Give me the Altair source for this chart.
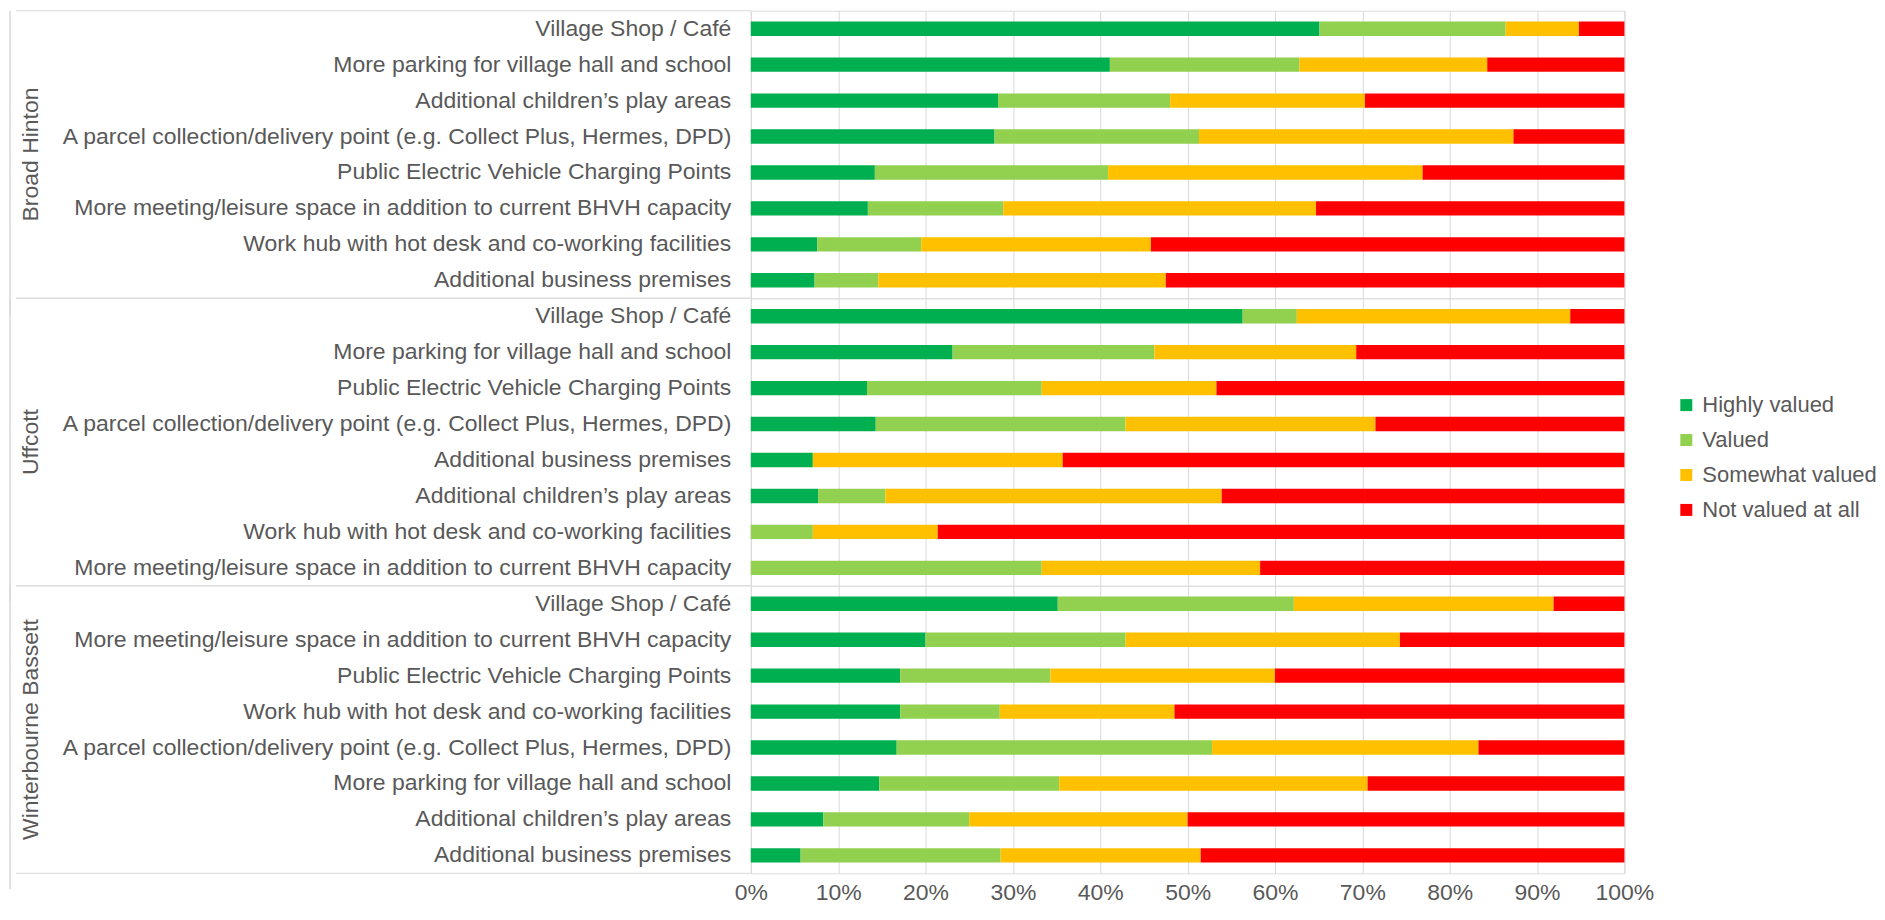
import altair as alt
import pandas as pd

groups = ["Broad Hinton", "Uffcott", "Winterbourne Bassett"]
statuses = ["Highly valued", "Valued", "Somewhat valued", "Not valued at all"]
colors = ["#00B050", "#92D050", "#FFC000", "#FF0000"]
x_ticks = [0, 0.1, 0.2, 0.3, 0.4, 0.5, 0.6, 0.7, 0.8, 0.9, 1.0]

items_bh = [
    "Village Shop / Café",
    "More parking for village hall and school",
    "Additional children’s play areas",
    "A parcel collection/delivery point (e.g. Collect Plus, Hermes, DPD)",
    "Public Electric Vehicle Charging Points",
    "More meeting/leisure space in addition to current BHVH capacity",
    "Work hub with hot desk and co-working facilities",
    "Additional business premises",
]
hv_bh = [65.1, 41.1, 28.3, 27.9, 14.2, 13.4, 7.6, 7.3]
v_bh = [21.3, 21.7, 19.7, 23.4, 26.7, 15.5, 11.9, 7.3]
sv_bh = [8.4, 21.5, 22.3, 36.0, 36.0, 35.8, 26.3, 32.9]
n_bh = [5.2, 15.7, 29.7, 12.7, 23.1, 35.3, 54.2, 52.5]

items_uf = [
    "Village Shop / Café",
    "More parking for village hall and school",
    "Public Electric Vehicle Charging Points",
    "A parcel collection/delivery point (e.g. Collect Plus, Hermes, DPD)",
    "Additional business premises",
    "Additional children’s play areas",
    "Work hub with hot desk and co-working facilities",
    "More meeting/leisure space in addition to current BHVH capacity",
]
hv_uf = [56.3, 23.1, 13.3, 14.3, 7.1, 7.7, 0.0, 0.0]
v_uf = [6.2, 23.1, 20.0, 28.6, 0.0, 7.7, 7.1, 33.3]
sv_uf = [31.3, 23.1, 20.0, 28.6, 28.6, 38.5, 14.3, 25.0]
n_uf = [6.2, 30.7, 46.7, 28.5, 64.3, 46.1, 78.6, 41.7]

items_wb = [
    "Village Shop / Café",
    "More meeting/leisure space in addition to current BHVH capacity",
    "Public Electric Vehicle Charging Points",
    "Work hub with hot desk and co-working facilities",
    "A parcel collection/delivery point (e.g. Collect Plus, Hermes, DPD)",
    "More parking for village hall and school",
    "Additional children’s play areas",
    "Additional business premises",
]
hv_wb = [35.1, 20.0, 17.1, 17.1, 16.7, 14.7, 8.3, 5.7]
v_wb = [27.0, 22.9, 17.2, 11.4, 36.1, 20.6, 16.7, 22.9]
sv_wb = [29.7, 31.4, 25.7, 20.0, 30.5, 35.3, 25.0, 22.9]
n_wb = [8.1, 25.7, 40.0, 51.5, 16.7, 29.4, 50.0, 48.5]

series = {
    "Broad Hinton": (items_bh, [hv_bh, v_bh, sv_bh, n_bh]),
    "Uffcott": (items_uf, [hv_uf, v_uf, sv_uf, n_uf]),
    "Winterbourne Bassett": (items_wb, [hv_wb, v_wb, sv_wb, n_wb]),
}

rows = []
for g in groups:
    its, vals = series[g]
    for r, it in enumerate(its):
        for s, st in enumerate(statuses):
            rows.append({
                "group": g, "item": it, "rank": r, "status": st, "sidx": s,
                "value": vals[s][r], "first": 1 if (r == 0 and s == 0) else 0,
            })
df = pd.DataFrame(rows)

FONT = "Liberation Sans"
GREY = "#595959"
FS = 23
W, H = 875, 288

bars = alt.Chart().mark_bar().encode(
    x=alt.X("value:Q", stack="normalize",
            scale=alt.Scale(domain=[0, 1], nice=False),
            axis=alt.Axis(format=".0%", values=x_ticks, title=None, labelFontSize=FS,
                          labelColor=GREY, labelPadding=8, domain=False, ticks=False,
                          labelFlush=False, grid=True, gridColor="#d9d9d9",
                          labelFont=FONT)),
    y=alt.Y("item:N", sort=alt.EncodingSortField(field="rank", op="min"),
            scale=alt.Scale(paddingInner=0.6, paddingOuter=0.3),
            axis=alt.Axis(title=None, labelLimit=0, labelFontSize=FS, labelColor=GREY,
                          labelPadding=20, domain=False, ticks=False, grid=False,
                          labelFont=FONT)),
    color=alt.Color("status:N", scale=alt.Scale(domain=statuses, range=colors),
                    legend=alt.Legend(title=None, orient="none", legendX=926, legendY=384,
                                      symbolType="square", symbolSize=144,
                                      symbolStrokeWidth=0, labelFontSize=22,
                                      labelColor=GREY, labelFont=FONT, rowPadding=13,
                                      labelOffset=5, labelLimit=0, padding=0)),
    order=alt.Order("sidx:Q"),
)

first = alt.Chart().transform_filter("datum.first == 1")

top_rule = first.mark_rule(color="#d9d9d9", strokeWidth=1).encode(
    x=alt.value(-736), x2=alt.value(0), y=alt.value(0))
bottom_rule = first.mark_rule(color="#d9d9d9", strokeWidth=1).encode(
    x=alt.value(-736), x2=alt.value(0), y=alt.value(H))
left_border = first.mark_rule(color="#d9d9d9", strokeWidth=1.5).encode(
    x=alt.value(-742), y=alt.value(0), y2=alt.value(H + 16))
group_text = first.mark_text(angle=270, fontSize=FS, color=GREY, font=FONT,
                             align="center", baseline="middle").encode(
    text="group:N", x=alt.value(-721), y=alt.value(H / 2))

layered = alt.layer(bars, top_rule, bottom_rule, left_border, group_text,
                    data=df).properties(width=W, height=H)

chart = layered.facet(
    row=alt.Row("group:N", sort=groups, header=alt.Header(labels=False, title=None)),
    spacing=0,
    bounds="flush",
).resolve_scale(y="independent").properties(
    padding={"left": 0, "top": 0, "right": 0, "bottom": 0}
).configure_view(stroke=None).configure(font=FONT)

chart.save("out.html", embed_options={"renderer": "svg", "actions": False})
